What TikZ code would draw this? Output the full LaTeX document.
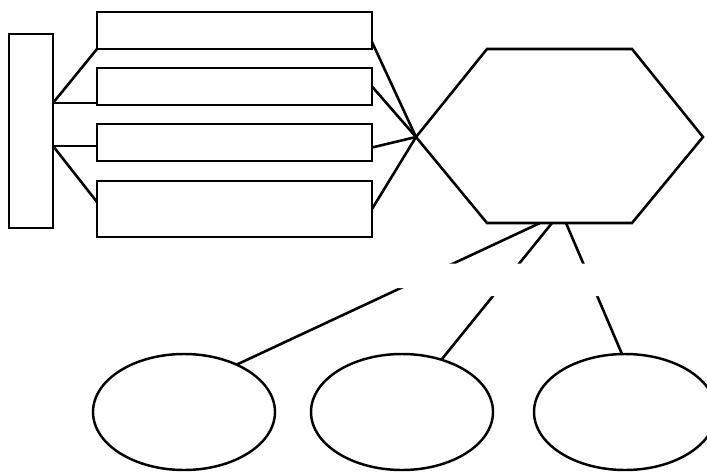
\documentclass[tikz,border=0pt]{standalone}
\usetikzlibrary{shapes.geometric,calc}
\tikzset{
  box/.style={draw,line width=2.3pt,rectangle,inner sep=0pt,outer sep=0pt,minimum width=8.25cm},
  blob/.style={draw,line width=2.1pt,ellipse,inner sep=0pt,outer sep=0pt,minimum width=5.46cm,minimum height=3.48cm},
  link/.style={line width=2.2pt}
}
\begin{document}
\begin{tikzpicture}[x=0.03cm,y=-0.03cm]
 \useasboundingbox (0,0) rectangle (707,471);
 \node[box,minimum width=1.32cm,minimum height=5.82cm] (bar) at (31,131) {};
 \node[box,minimum height=1.11cm] (r1) at (234.5,30.5) {};
 \node[box,minimum height=1.11cm] (r2) at (234.5,86.5) {};
 \node[box,minimum height=1.11cm] (r3) at (234.5,142.5) {};
 \node[box,minimum height=1.68cm] (r4) at (234.5,209) {};
 % hexagon
 \coordinate (hw) at (416,137);
 \coordinate (hnw) at (487,49);
 \coordinate (hne) at (632,49);
 \coordinate (he) at (703,137);
 \coordinate (hse) at (632,223);
 \coordinate (hsw) at (487,223);
 \draw[link] (hw)--(hnw)--(hne)--(he)--(hse)--(hsw)--cycle;
 \node[blob] (e1) at (184,412) {};
 \node[blob] (e2) at (402,412) {};
 \node[blob] (e3) at (625,412) {};
 % bar to boxes
 \coordinate (bup) at ($(bar.east)+(0,-28)$);
 \coordinate (blow) at ($(bar.east)+(0,15)$);
 \draw[link] (bup)--(r1.south west);
 \draw[link] (bup)--(bup -| r2.west);
 \draw[link] (blow)--(blow -| r3.west);
 \draw[link] (blow)--($(r4.west)+(0,-7)$);
 % boxes to hexagon
 \draw[link] ($(r1.south east)+(0,-7)$)--(hw);
 \draw[link] (r2.east)--(hw);
 \draw[link] ($(r3.east)+(0,5)$)--(hw);
 \draw[link] (r4.east)--(hw);
 % hexagon to ellipses
 \coordinate (hb1) at (540,223);
 \coordinate (hb2) at (552,223);
 \coordinate (hb3) at (566,223);
 \draw[link] (hb1)--(e1.42);
 \draw[link] (hb2)--(e2.53);
 \draw[link] (hb3)--(e3.93);
 \fill[white] (390,263.5)--(615,263.5)--(615,296)--(430,296)--(430,288)--(390,288)--cycle;
\end{tikzpicture}
\end{document}
